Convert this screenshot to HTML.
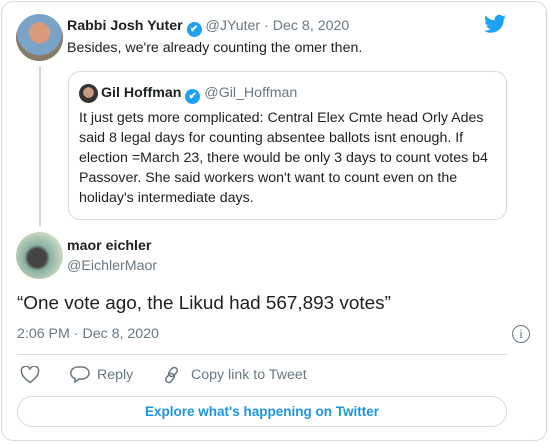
<!DOCTYPE html>
<html><head><meta charset="utf-8"><style>
body{margin:0;width:550px;height:444px;background:#fff;font-family:"Liberation Sans",Arial,sans-serif;overflow:hidden;position:relative;color:#1c2022}
.a{position:absolute;white-space:nowrap}
.g{color:#697882}
.b{font-weight:bold}
.v{display:inline-block;width:15px;height:15px;border-radius:50%;background:#1da1f2;color:#fff;font-size:10px;line-height:15px;text-align:center;vertical-align:-2px}
</style></head><body>
<div class="a" style="left:1px;top:1px;width:546px;height:440px;border:1px solid #d6dce0;border-radius:12px;box-sizing:border-box"></div>
<div class="a" style="left:16px;top:14px;width:47px;height:47px;border-radius:50%;background:radial-gradient(circle at 50% 40%,#d89a7a 0 28%,#7aa3c8 30% 60%,#8a7a68 62%)"></div>
<div class="a b" style="left:67px;top:18px;font-size:14.2px">Rabbi Josh Yuter <span class="v">✔</span> <span class="g" style="font-weight:normal">@JYuter · Dec 8, 2020</span></div>
<svg class="a" style="left:484px;top:14px" width="22" height="20" viewBox="0 0 24 20"><path fill="#1da1f2" d="M24 2.4a9.8 9.8 0 0 1-2.8.8A4.9 4.9 0 0 0 23.3.4a9.8 9.8 0 0 1-3.1 1.2A4.9 4.9 0 0 0 11.8 6 14 14 0 0 1 1.7.9a4.9 4.9 0 0 0 1.5 6.6 4.9 4.9 0 0 1-2.2-.6 4.9 4.9 0 0 0 3.9 4.9 4.9 4.9 0 0 1-2.2.1 4.9 4.9 0 0 0 4.6 3.4A9.9 9.9 0 0 1 0 17.3 14 14 0 0 0 7.5 19.5c9.1 0 14-7.5 14-14v-.6A10 10 0 0 0 24 2.4z"/></svg>
<div class="a" style="left:67px;top:40px;font-size:14.2px">Besides, we're already counting the omer then.</div>
<div class="a" style="left:39px;top:66px;width:2px;height:160px;background:#ccd6dd"></div>
<div class="a" style="left:68px;top:71px;width:439px;height:149px;border:1px solid #d6dce0;border-radius:12px;box-sizing:border-box"></div>
<div class="a" style="left:79px;top:84px;width:19px;height:19px;border-radius:50%;background:radial-gradient(circle at 50% 45%,#c99a80 0 35%,#333 40%)"></div>
<div class="a b" style="left:101px;top:85px;font-size:14.2px">Gil Hoffman <span class="v">✔</span> <span class="g" style="font-weight:normal">@Gil_Hoffman</span></div>
<div class="a" style="left:79px;top:108px;font-size:14.2px;line-height:20px">It just gets more complicated: Central Elex Cmte head Orly Ades<br>said 8 legal days for counting absentee ballots isnt enough. If<br>election =March 23, there would be only 3 days to count votes b4<br>Passover. She said workers won't want to count even on the<br>holiday's intermediate days.</div>
<div class="a" style="left:16px;top:232px;width:47px;height:47px;border-radius:50%;background:radial-gradient(circle at 45% 55%,#444 0 25%,#8ab0a0 35%,#c8d8c0 70%)"></div>
<div class="a b" style="left:67px;top:238px;font-size:14.2px">maor eichler</div>
<div class="a g" style="left:67px;top:258px;font-size:14.2px">@EichlerMaor</div>
<div class="a" style="left:17px;top:293px;font-size:18.9px">“One vote ago, the Likud had 567,893 votes”</div>
<div class="a g" style="left:17px;top:326px;font-size:14.2px">2:06 PM · Dec 8, 2020</div>
<div class="a g" style="left:512px;top:325px;width:18px;height:18px;border:1.5px solid #697882;border-radius:50%;box-sizing:border-box;font-size:13px;text-align:center;line-height:15px;font-family:'Liberation Serif',serif">i</div>
<div class="a" style="left:17px;top:354px;width:490px;height:1px;background:#d6dce0"></div>
<svg class="a" style="left:20px;top:366px" width="20" height="18" viewBox="0 0 20 18"><path d="M10 16.5C4 12 1.5 9 1.5 5.5A4 4 0 0 1 10 3.5a4 4 0 0 1 8.5 2C18.5 9 16 12 10 16.5z" fill="none" stroke="#697882" stroke-width="1.5"/></svg>
<svg class="a" style="left:70px;top:366px" width="20" height="18" viewBox="0 0 20 18"><path d="M8 1h4a7 6 0 0 1 0 12h-3l-4 3v-3.5A7 6 0 0 1 8 1z" fill="none" stroke="#697882" stroke-width="1.5"/></svg>
<div class="a g" style="left:97px;top:367px;font-size:14.2px">Reply</div>
<svg class="a" style="left:162px;top:365px" width="20" height="20" viewBox="0 0 20 20"><g fill="none" stroke="#697882" stroke-width="1.5"><rect x="8" y="2" width="6" height="10" rx="3" transform="rotate(40 11 7)"/><rect x="5" y="8" width="6" height="10" rx="3" transform="rotate(40 8 13)"/></g></svg>
<div class="a g" style="left:191px;top:367px;font-size:14.2px">Copy link to Tweet</div>
<div class="a b" style="left:17px;top:396px;width:490px;height:31px;border:1px solid #d6dce0;border-radius:16px;box-sizing:border-box;text-align:center;line-height:29px;font-size:13.5px;color:#1b95e0">Explore what's happening on Twitter</div>
</body></html>
